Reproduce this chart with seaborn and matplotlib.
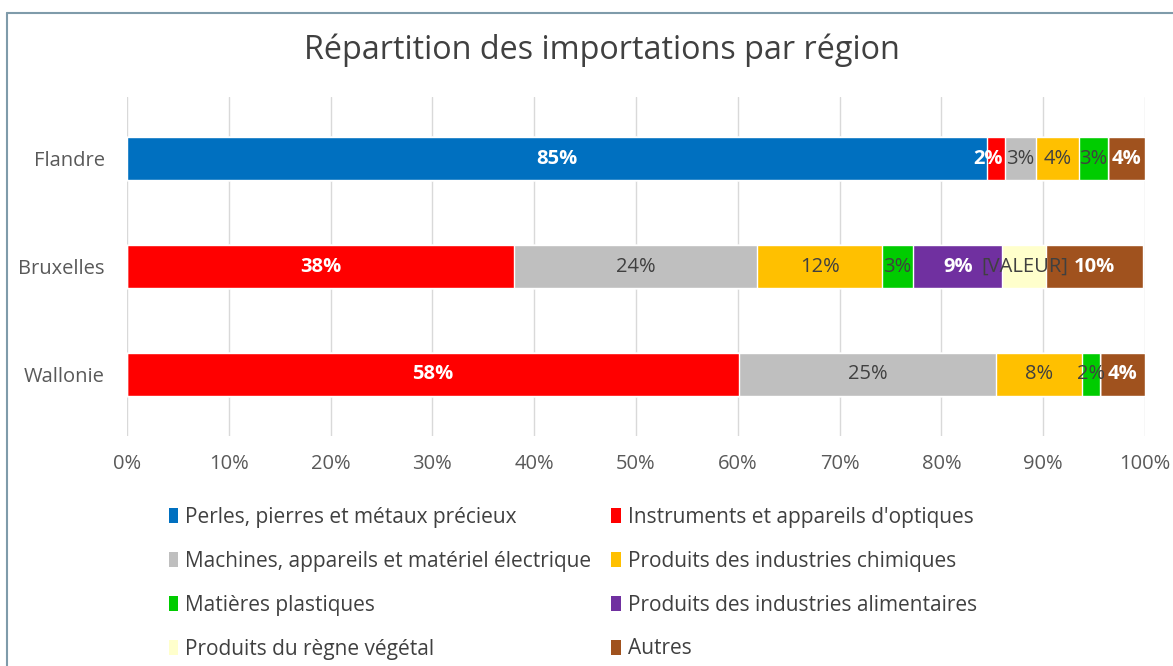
import numpy as np
import pandas as pd
import matplotlib
matplotlib.use("Agg")
import matplotlib.pyplot as plt
from matplotlib.patches import Patch
from matplotlib.lines import Line2D
import seaborn as sns

# -----------------------
# Data
# -----------------------
regions = ["Flandre", "Bruxelles", "Wallonie"]
categories = [
    "Perles, pierres et métaux précieux",
    "Instruments et appareils d'optiques",
    "Machines, appareils et matériel électrique",
    "Produits des industries chimiques",
    "Matières plastiques",
    "Produits des industries alimentaires",
    "Produits du règne végétal",
    "Autres",
]
# bar widths per category, in % (Flandre, Bruxelles, Wallonie)
perles = [84.5, 0.0, 0.0]
instruments = [1.7, 38.0, 60.1]
machines = [3.1, 23.9, 25.3]
chimiques = [4.2, 12.3, 8.4]
plastiques = [2.9, 3.0, 1.8]
alimentaires = [0.0, 8.8, 0.0]
vegetal = [0.0, 4.3, 0.0]
autres = [3.6, 9.5, 4.4]

# data labels as printed on the chart
labels_perles = ["85%", "", ""]
labels_instruments = ["2%", "38%", "58%"]
labels_machines = ["3%", "24%", "25%"]
labels_chimiques = ["4%", "12%", "8%"]
labels_plastiques = ["3%", "3%", "2%"]
labels_alimentaires = ["", "9%", ""]
labels_vegetal = ["", "[VALEUR]", ""]
labels_autres = ["4%", "10%", "4%"]

colors = ["#0070C0", "#FF0000", "#BFBFBF", "#FFC000",
          "#00CC00", "#7030A0", "#FFFFCC", "#A0521E"]
# white bold labels or dark normal labels
white_label = [True, True, False, False, False, True, False, True]

series = [perles, instruments, machines, chimiques,
          plastiques, alimentaires, vegetal, autres]
series_labels = [labels_perles, labels_instruments, labels_machines, labels_chimiques,
                 labels_plastiques, labels_alimentaires, labels_vegetal, labels_autres]

df = pd.DataFrame(np.array(series).T, index=regions, columns=categories)
cum = df.cumsum(axis=1)

sns.set_theme(style="white")
plt.rcParams["font.family"] = ["Open Sans", "DejaVu Sans"]

fig = plt.figure(figsize=(11.73, 6.66), dpi=100)
ax = fig.add_axes([127 / 1173, 1 - 436 / 666, 1018 / 1173, 339 / 666])

# stacked bars: draw cumulative totals from the last category back to the first
for i in range(len(categories) - 1, -1, -1):
    d = pd.DataFrame({"region": regions, "value": cum.iloc[:, i].values})
    sns.barplot(data=d, x="value", y="region", orient="h", color=colors[i],
                saturation=1, width=0.39, ax=ax, zorder=2)

# data labels
for i, cat in enumerate(categories):
    for j, reg in enumerate(regions):
        txt = series_labels[i][j]
        if not txt:
            continue
        mid = cum.iloc[j, i] - df.iloc[j, i] / 2
        ha = "center"
        # the tiny red slice in Flandre: label sits flush to its right end
        if i == 1 and j == 0:
            mid, ha = cum.iloc[j, i] - 0.2, "right"
        if white_label[i]:
            ax.text(mid, j, txt, ha=ha, va="center", color="white",
                    fontsize=14.5, fontweight="bold", zorder=5)
        else:
            ax.text(mid, j, txt, ha=ha, va="center", color="#404040",
                    fontsize=14.5, zorder=5)

ax.set_xlim(0, 100)
ax.set_ylim(2.57, -0.57)
ax.set_xticks(np.arange(0, 101, 10))
ax.set_xticklabels([f"{v}%" for v in range(0, 101, 10)])
ax.xaxis.grid(True, color="#D9D9D9", linewidth=1)
ax.set_axisbelow(True)
ax.tick_params(axis="x", length=0, labelsize=14.5, colors="#595959", pad=13)
ax.tick_params(axis="y", length=0, labelsize=14.5, colors="#595959", pad=16)
ax.set_xlabel("")
ax.set_ylabel("")
sns.despine(ax=ax, left=True, bottom=True)

fig.text(0.513, 1 - 50 / 666, "Répartition des importations par région",
         ha="center", va="center", fontsize=23.3, color="#404040")

# legend, row-major order like the original
order = [0, 2, 4, 6, 1, 3, 5, 7]
handles = [Patch(facecolor=colors[k], edgecolor="none", label=categories[k]) for k in order]
fig.legend(handles=handles, ncol=2, loc="upper left",
           bbox_to_anchor=(150 / 1173, 1 - 488 / 666), frameon=False,
           fontsize=15, handlelength=0.45, handleheight=0.7, handletextpad=0.35,
           columnspacing=0.95, labelspacing=1.1, labelcolor="#404040")

# frame border of the original chart area
fig.add_artist(Line2D([7 / 1173, 1.0], [1 - 13 / 666, 1 - 13 / 666],
                      color="#7F9BAA", linewidth=1.5))
fig.add_artist(Line2D([7 / 1173, 7 / 1173], [0.0, 1 - 13 / 666],
                      color="#7F9BAA", linewidth=1.5))

fig.savefig("out.png", dpi=100)
plt.close(fig)
